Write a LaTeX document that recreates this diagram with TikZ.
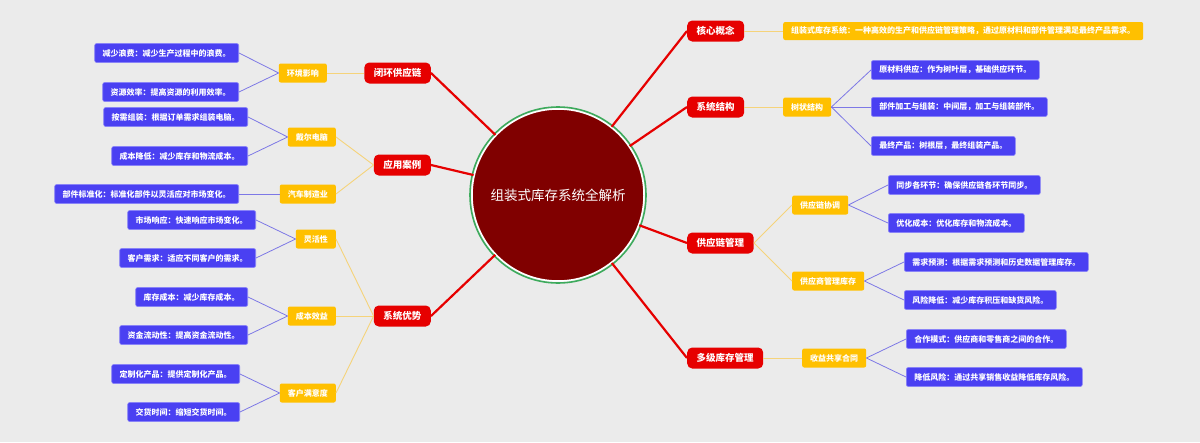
\documentclass[tikz,border=0pt]{standalone}
\usepackage{fontspec}
\setmainfont{Noto Sans CJK SC}
\usepackage{tikz}
\usetikzlibrary{positioning}
\definecolor{bggray}{HTML}{EBEBEB}
\definecolor{hubred}{HTML}{800000}
\definecolor{ringgreen}{HTML}{3DAA5C}
\definecolor{mapred}{HTML}{E60000}
\definecolor{mapyellow}{HTML}{FFC000}
\definecolor{mapblue}{HTML}{4A40F2}
\definecolor{lineyellow}{HTML}{F5D37A}
\definecolor{lineblue}{HTML}{7D78E6}
\tikzstyle{hub} = [circle, minimum size=172pt, inner sep=0pt, fill=hubred, draw=white, line width=1.5pt, text=white, font=\fontsize{13.5}{16}\selectfont]
\tikzstyle{branch} = [rectangle, rounded corners=5pt, minimum height=21pt, inner xsep=9.5pt, inner ysep=0pt, fill=mapred, text=white, font=\fontsize{9.5}{11}\selectfont\bfseries]
\tikzstyle{topic} = [rectangle, rounded corners=2pt, minimum height=19pt, inner xsep=8pt, inner ysep=0pt, fill=mapyellow, text=white, font=\fontsize{8}{10}\selectfont\bfseries]
\tikzstyle{detail} = [topic, fill=mapblue, draw=mapblue!65!white, line width=0.6pt]
\tikzstyle{mainline} = [line width=2.2pt, draw=mapred]
\tikzstyle{subline} = [line width=0.9pt, draw=lineyellow]
\tikzstyle{leafline} = [line width=0.8pt, draw=lineblue]

\begin{document}
\begin{tikzpicture}[x=1pt, y=-1pt]
                \fill [bggray] (0,0) rectangle (1200,442);
                \useasboundingbox (0,0) rectangle (1200,442);

                \node (hub) [hub] at (558,195) {组装式库存系统全解析};
                \draw [ringgreen, line width=1.6pt] (hub.center) circle (88);

                % main branches
                \node (concept) [branch, anchor=west] at (687,31) {核心概念};
                \node (structure) [branch, anchor=west] at (687,107) {系统结构};
                \node (supply) [branch, anchor=west] at (687,243) {供应链管理};
                \node (multi) [branch, anchor=west] at (687,358) {多级库存管理};
                \node (closed) [branch, anchor=east] at (431,73) {闭环供应链};
                \node (cases) [branch, anchor=east] at (431,165) {应用案例};
                \node (advantage) [branch, anchor=east] at (431,316) {系统优势};

                % topics
                \node (conceptdef) [topic, minimum height=18pt, anchor=west] at (783,31) {组装式库存系统：一种高效的生产和供应链管理策略，通过原材料和部件管理满足最终产品需求。};
                \node (tree) [topic, anchor=west] at (783,107) {树状结构};
                \node (chaincoord) [topic, anchor=west] at (792,205) {供应链协调};
                \node (vmi) [topic, anchor=west] at (792,281) {供应商管理库存};
                \node (revshare) [topic, anchor=west] at (802,358) {收益共享合同};
                \node (env) [topic, anchor=east] at (327,73) {环境影响};
                \node (dell) [topic, anchor=east] at (336,137) {戴尔电脑};
                \node (auto) [topic, anchor=east] at (336,194) {汽车制造业};
                \node (flex) [topic, anchor=east] at (336,239) {灵活性};
                \node (costben) [topic, anchor=east] at (336,316) {成本效益};
                \node (satis) [topic, anchor=east] at (336,393) {客户满意度};

                % details
                \node (raw) [detail, anchor=west] at (871,70) {原材料供应：作为树叶层，基础供应环节。};
                \node (parts) [detail, anchor=west] at (871,107) {部件加工与组装：中间层，加工与组装部件。};
                \node (final) [detail, anchor=west] at (871,146) {最终产品：树根层，最终组装产品。};
                \node (syncall) [detail, anchor=west] at (888,185) {同步各环节：确保供应链各环节同步。};
                \node (optcost) [detail, anchor=west] at (888,223) {优化成本：优化库存和物流成本。};
                \node (forecast) [detail, anchor=west] at (904,262) {需求预测：根据需求预测和历史数据管理库存。};
                \node (riskdown) [detail, anchor=west] at (904,300) {风险降低：减少库存积压和缺货风险。};
                \node (coop) [detail, anchor=west] at (906,339) {合作模式：供应商和零售商之间的合作。};
                \node (lowrisk) [detail, anchor=west] at (906,377) {降低风险：通过共享销售收益降低库存风险。};
                \node (waste) [detail, anchor=east] at (239,53) {减少浪费：减少生产过程中的浪费。};
                \node (effic) [detail, anchor=east] at (239,92) {资源效率：提高资源的利用效率。};
                \node (ondemand) [detail, anchor=east] at (248,117) {按需组装：根据订单需求组装电脑。};
                \node (costdown) [detail, anchor=east] at (248,156) {成本降低：减少库存和物流成本。};
                \node (standard) [detail, anchor=east] at (239,194) {部件标准化：标准化部件以灵活应对市场变化。};
                \node (market) [detail, anchor=east] at (256,220) {市场响应：快速响应市场变化。};
                \node (custneed) [detail, anchor=east] at (256,258) {客户需求：适应不同客户的需求。};
                \node (invcost) [detail, anchor=east] at (248,297) {库存成本：减少库存成本。};
                \node (liquid) [detail, anchor=east] at (248,335) {资金流动性：提高资金流动性。};
                \node (custom) [detail, anchor=east] at (240,374) {定制化产品：提供定制化产品。};
                \node (delivery) [detail, anchor=east] at (240,412) {交货时间：缩短交货时间。};

                \draw [mainline] (concept.west) -- (hub);
                \draw [mainline] (structure.west) -- (hub);
                \draw [mainline] (supply.west) -- (hub);
                \draw [mainline] (multi.west) -- (hub);
                \draw [mainline] (closed.east) -- (hub);
                \draw [mainline] (cases.east) -- (hub);
                \draw [mainline] (advantage.east) -- (hub);

                \draw [subline] (concept.east) -- (conceptdef.west);
                \draw [subline] (structure.east) -- (tree.west);
                \draw [subline] (supply.east) -- (chaincoord.west);
                \draw [subline] (supply.east) -- (vmi.west);
                \draw [subline] (multi.east) -- (revshare.west);
                \draw [subline] (closed.west) -- (env.east);
                \draw [subline] (cases.west) -- (dell.east);
                \draw [subline] (cases.west) -- (auto.east);
                \draw [subline] (advantage.west) -- (flex.east);
                \draw [subline] (advantage.west) -- (costben.east);
                \draw [subline] (advantage.west) -- (satis.east);

                \draw [leafline] (tree.east) -- (raw.west);
                \draw [leafline] (tree.east) -- (parts.west);
                \draw [leafline] (tree.east) -- (final.west);
                \draw [leafline] (chaincoord.east) -- (syncall.west);
                \draw [leafline] (chaincoord.east) -- (optcost.west);
                \draw [leafline] (vmi.east) -- (forecast.west);
                \draw [leafline] (vmi.east) -- (riskdown.west);
                \draw [leafline] (revshare.east) -- (coop.west);
                \draw [leafline] (revshare.east) -- (lowrisk.west);
                \draw [leafline] (env.west) -- (waste.east);
                \draw [leafline] (env.west) -- (effic.east);
                \draw [leafline] (dell.west) -- (ondemand.east);
                \draw [leafline] (dell.west) -- (costdown.east);
                \draw [leafline] (auto.west) -- (standard.east);
                \draw [leafline] (flex.west) -- (market.east);
                \draw [leafline] (flex.west) -- (custneed.east);
                \draw [leafline] (costben.west) -- (invcost.east);
                \draw [leafline] (costben.west) -- (liquid.east);
                \draw [leafline] (satis.west) -- (custom.east);
                \draw [leafline] (satis.west) -- (delivery.east);
            \end{tikzpicture}
\end{document}
